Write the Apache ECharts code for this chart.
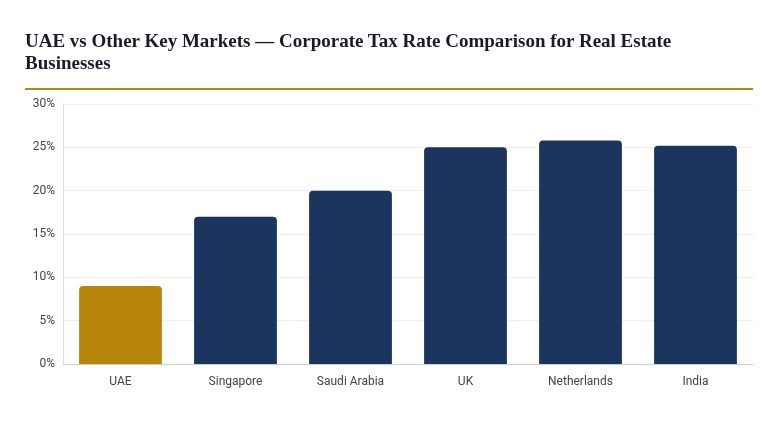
<!DOCTYPE html>
<html>
<head>
<meta charset="utf-8">
<script src="https://cdn.jsdelivr.net/npm/echarts@6/dist/echarts.min.js"></script>
<style>
  body { margin: 0; background: #fff; }
  .title { position: absolute; left: 25px; top: 30px; width: 728px; font-family: "Liberation Serif", "DejaVu Serif", serif; font-weight: bold; font-size: 19px; color: #1a1a2e; padding-bottom: 14px; border-bottom: 2px solid #b8860b; }
  #chart { position: absolute; left: 0; top: 0; width: 770px; height: 427px; }
</style>
</head>
<body>
<div id="chart"></div>
<div class="title">UAE vs Other Key Markets — Corporate Tax Rate Comparison for Real Estate Businesses</div>
<script>
const markets = ['UAE', 'Singapore', 'Saudi Arabia', 'UK', 'Netherlands', 'India'];
const taxRates = [9, 17, 20, 25, 25.8, 25.17];

let myChart = echarts.init(document.getElementById('chart'));
myChart.setOption({
    animation: false,
    grid: { left: 63, right: 17, top: 104, bottom: 63 },
    xAxis: {
        type: 'category',
        data: markets,
        axisTick: { show: false },
        axisLine: { lineStyle: { color: '#ccc' } },
        axisLabel: { color: '#444', fontSize: 12, fontFamily: 'Roboto', margin: 12 }
    },
    yAxis: {
        type: 'value', min: 0, max: 30, interval: 5,
        axisLabel: { formatter: '{value}%', color: '#444', fontSize: 12, fontFamily: 'Roboto' },
        splitLine: { lineStyle: { color: '#eee' } },
        axisLine: { show: true, lineStyle: { color: '#ddd' } }
    },
    series: [{
        type: 'bar',
        data: taxRates.map((v, i) => ({ value: v, itemStyle: { color: i === 0 ? '#b8860b' : '#1c355e' } })),
        barCategoryGap: '28%',
        itemStyle: { borderRadius: [4, 4, 0, 0] }
    }]
});
</script>
</body>
</html>
